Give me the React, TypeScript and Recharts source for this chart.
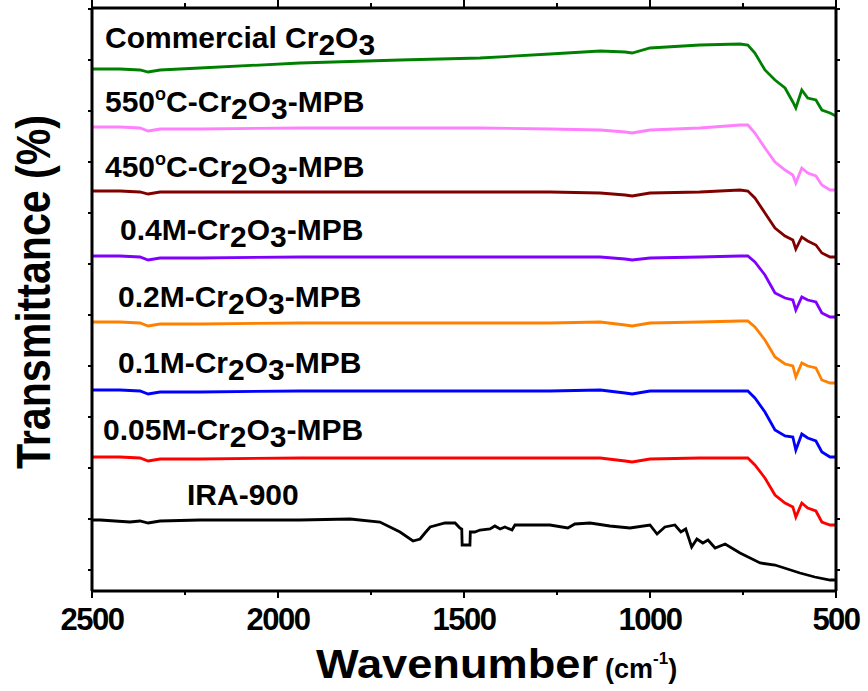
import React from "react";
import { LineChart, Line, XAxis, YAxis, Customized } from "recharts";

// Shared wavenumber grid (cm-1) for the Cr2O3 spectra
const wavenumbers = [2500, 2425, 2371, 2349, 2317, 2210, 1941, 1672, 1457, 1269, 1134, 1067, 1048, 1000, 866, 758, 737, 718, 691, 664, 637, 616, 608, 592, 576, 554, 538, 516, 500];

// Offset transmittance (a.u.) for each sample
const commercialCr2O3 = [522, 522, 521, 519, 521, 523, 528, 531, 533, 537, 540, 539, 538, 543, 546, 547, 546, 538, 521, 511, 503, 489, 483, 501, 493, 491, 481, 478, 475];
const mpb550 = [464, 464, 463, 460, 462, 462, 463, 463, 463, 462, 461, 459, 458, 461, 463, 466, 466, 458, 443, 429, 421, 416, 408, 423, 418, 415, 406, 401, 401];
const mpb450 = [400, 400, 399, 397, 399, 399, 399, 399, 399, 399, 398, 396, 395, 398, 399, 401, 400, 393, 378, 363, 355, 351, 342, 354, 350, 346, 338, 334, 334];
const mpb04M = [335, 335, 334, 331, 333, 333, 334, 334, 334, 334, 334, 332, 331, 333, 334, 335, 335, 329, 316, 298, 293, 291, 281, 294, 291, 289, 278, 274, 274];
const mpb02M = [269, 269, 268, 265, 267, 267, 268, 268, 268, 268, 269, 266, 265, 268, 269, 270, 270, 264, 251, 234, 227, 225, 214, 228, 225, 223, 211, 208, 208];
const mpb01M = [201, 201, 200, 197, 199, 199, 200, 200, 200, 200, 201, 198, 197, 200, 200, 200, 200, 193, 179, 161, 155, 154, 141, 157, 153, 150, 139, 134, 134];
const mpb005M = [134, 134, 133, 130, 132, 132, 133, 133, 133, 133, 133, 130, 129, 132, 133, 133, 133, 126, 113, 96, 88, 84, 74, 88, 83, 80, 69, 66, 66];

// IRA-900 resin spectrum
const iraWavenumbers = [2500, 2478, 2398, 2371, 2349, 2317, 2210, 1941, 1806, 1726, 1672, 1637, 1618, 1605, 1591, 1551, 1524, 1511, 1506, 1505, 1484, 1483, 1471, 1457, 1430, 1417, 1403, 1390, 1371, 1363, 1269, 1221, 1202, 1161, 1108, 1054, 1000, 981, 960, 933, 917, 904, 888, 874, 858, 844, 825, 798, 758, 704, 664, 597, 557, 516, 500];
const ira900 = [71, 71, 69, 70, 68, 70, 71, 71, 72, 69, 59, 50, 52, 58, 64, 68, 68, 63, 62, 46, 46, 59, 59, 61, 62, 65, 62, 64, 61, 66, 66, 63, 67, 68, 65, 63, 66, 57, 64, 66, 59, 62, 44, 52, 48, 51, 43, 47, 38, 28, 26, 18, 14, 11, 11];

const majorXTicks = [2500, 2000, 1500, 1000, 500];
const allXTicks = [2500, 2250, 2000, 1750, 1500, 1250, 1000, 750, 500];
const yTicks = [21, 72, 123, 174, 225, 276, 327, 378, 429, 480, 531, 582];

const toData = (xs: number[], ys: number[]) => xs.map((wn, i) => ({ wn, t: ys[i] }));

const series = [
  { key: "commercial", values: commercialCr2O3, color: "#008000" },
  { key: "550", values: mpb550, color: "#ff80ff" },
  { key: "450", values: mpb450, color: "#800000" },
  { key: "0.4M", values: mpb04M, color: "#8000ff" },
  { key: "0.2M", values: mpb02M, color: "#ff8000" },
  { key: "0.1M", values: mpb01M, color: "#0000ff" },
  { key: "0.05M", values: mpb005M, color: "#ff0000" },
];

const FONT = "'Liberation Sans', Arial, Helvetica, sans-serif";

function BottomTick(props: any) {
  const { x, y, payload } = props;
  const major = majorXTicks.includes(payload.value);
  return (
    <g>
      <line x1={x} x2={x} y1={y} y2={y + (major ? 7 : 4)} stroke="#000" strokeWidth={2} />
      {major && (
        <text x={x} y={y + 39} textAnchor="middle" fontFamily={FONT} fontWeight="bold" fontSize={31} letterSpacing={-1.5} fill="#000">
          {payload.value}
        </text>
      )}
    </g>
  );
}

function TopTick(props: any) {
  const { x, y, payload } = props;
  const major = majorXTicks.includes(payload.value);
  return <line x1={x} x2={x} y1={y} y2={y - (major ? 8 : 5)} stroke="#000" strokeWidth={2} />;
}

const Cr2O3 = () => (
  <>
    <tspan>Cr</tspan>
    <tspan dy={7}>2</tspan>
    <tspan dy={-7}>O</tspan>
    <tspan dy={7}>3</tspan>
  </>
);

function Annotations() {
  const common = { fontFamily: FONT, fontWeight: "bold" as const, fontSize: 30, fill: "#000" };
  return (
    <g>
      <text x={105} y={48} {...common}>
        <tspan>Commercial </tspan>
        <Cr2O3 />
      </text>
      <text x={105} y={112} {...common}>
        <tspan>550</tspan>
        <tspan fontSize={18} dy={-12}>o</tspan>
        <tspan dy={12}>C-</tspan>
        <Cr2O3 />
        <tspan dy={-7}>-MPB</tspan>
      </text>
      <text x={105} y={177} {...common}>
        <tspan>450</tspan>
        <tspan fontSize={18} dy={-12}>o</tspan>
        <tspan dy={12}>C-</tspan>
        <Cr2O3 />
        <tspan dy={-7}>-MPB</tspan>
      </text>
      <text x={120} y={240} {...common}>
        <tspan>0.4M-</tspan>
        <Cr2O3 />
        <tspan dy={-7}>-MPB</tspan>
      </text>
      <text x={118} y={307} {...common}>
        <tspan>0.2M-</tspan>
        <Cr2O3 />
        <tspan dy={-7}>-MPB</tspan>
      </text>
      <text x={118} y={373} {...common}>
        <tspan>0.1M-</tspan>
        <Cr2O3 />
        <tspan dy={-7}>-MPB</tspan>
      </text>
      <text x={103} y={440} {...common}>
        <tspan>0.05M-</tspan>
        <Cr2O3 />
        <tspan dy={-7}>-MPB</tspan>
      </text>
      <text x={187} y={505} {...common}>IRA-900</text>

      <text
        transform="translate(50,292) rotate(-90)"
        textAnchor="middle"
        fontFamily={FONT}
        fontWeight="bold"
        fontSize={48}
        textLength={354}
        lengthAdjust="spacingAndGlyphs"
        fill="#000"
      >
        Transmittance (%)
      </text>

      <text x={316} y={678} fontFamily={FONT} fontWeight="bold" fontSize={40} textLength={282} lengthAdjust="spacingAndGlyphs" fill="#000">
        Wavenumber
      </text>
      <text x={605} y={678} fontFamily={FONT} fontWeight="bold" fontSize={27} fill="#000">
        <tspan>(cm</tspan>
        <tspan fontSize={17} dy={-14}>-1</tspan>
        <tspan dy={14}>)</tspan>
      </text>
    </g>
  );
}

export default function App() {
  return (
    <div style={{ position: "absolute", left: 0, top: 0, background: "#fff" }}>
      <LineChart width={868} height={691} margin={{ top: 0, right: 0, bottom: 0, left: 0 }}>
        <XAxis
          xAxisId="b"
          type="number"
          dataKey="wn"
          orientation="bottom"
          domain={[500, 2500]}
          reversed
          ticks={allXTicks}
          interval={0}
          height={100}
          tickSize={0}
          tickMargin={0}
          tick={<BottomTick />}
          axisLine={{ stroke: "#000", strokeWidth: 3 }}
          allowDataOverflow
        />
        <XAxis
          xAxisId="t"
          type="number"
          dataKey="wn"
          orientation="top"
          domain={[500, 2500]}
          reversed
          ticks={allXTicks}
          interval={0}
          height={8}
          tickSize={0}
          tickMargin={0}
          tick={<TopTick />}
          axisLine={{ stroke: "#000", strokeWidth: 3 }}
          allowDataOverflow
        />
        <YAxis
          yAxisId="l"
          type="number"
          domain={[0, 583]}
          ticks={yTicks}
          interval={0}
          width={92}
          tickSize={4}
          tickFormatter={() => ""}
          tickLine={{ stroke: "#000", strokeWidth: 2 }}
          axisLine={{ stroke: "#000", strokeWidth: 3 }}
          allowDataOverflow
        />
        <YAxis
          yAxisId="r"
          orientation="right"
          type="number"
          domain={[0, 583]}
          ticks={yTicks}
          interval={0}
          width={32}
          tickSize={4}
          tickFormatter={() => ""}
          tickLine={{ stroke: "#000", strokeWidth: 2 }}
          axisLine={{ stroke: "#000", strokeWidth: 3 }}
          allowDataOverflow
        />
        <Line
          xAxisId="b"
          yAxisId="l"
          data={toData(iraWavenumbers, ira900)}
          dataKey="t"
          type="linear"
          stroke="#000"
          strokeWidth={2.8}
          dot={false}
          isAnimationActive={false}
        />
        {series.map((s) => (
          <Line
            key={s.key}
            xAxisId="b"
            yAxisId="l"
            data={toData(wavenumbers, s.values)}
            dataKey="t"
            type="linear"
            stroke={s.color}
            strokeWidth={2.8}
            dot={false}
            isAnimationActive={false}
          />
        ))}
        <Customized component={<Annotations />} />
      </LineChart>
    </div>
  );
}
